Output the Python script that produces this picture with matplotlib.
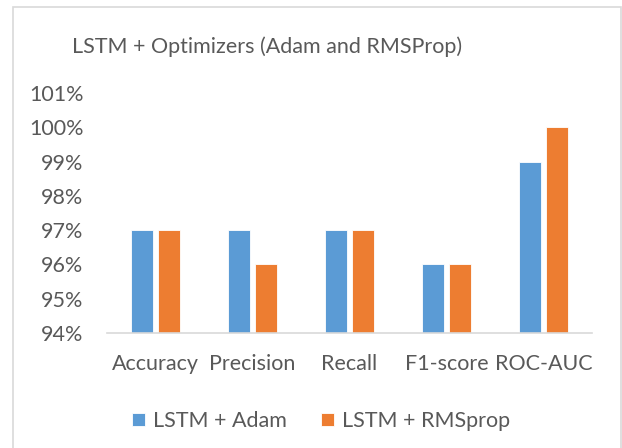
import matplotlib
matplotlib.use("Agg")
import matplotlib.pyplot as plt
from matplotlib.patches import Rectangle
import numpy as np

categories = ["Accuracy", "Precision", "Recall", "F1-score", "ROC-AUC"]
adam = [0.97, 0.97, 0.97, 0.96, 0.99]
rmsprop = [0.97, 0.96, 0.97, 0.96, 1.00]
series_names = ["LSTM + Adam", "LSTM + RMSprop"]
yticks = [0.94, 0.95, 0.96, 0.97, 0.98, 0.99, 1.00, 1.01]
title = "LSTM + Optimizers (Adam and RMSProp)"

plt.rcParams['font.family'] = ['Lato', 'DejaVu Sans']
TXT = '#595959'
BLUE = '#5B9BD5'
ORANGE = '#ED7D31'

fig = plt.figure(figsize=(6.22, 4.48), dpi=100)
fig.patch.set_facecolor('white')
fig.add_artist(Rectangle((13/622, -0.01), (621-13)/622, 1 - 7/448 + 0.01,
                         transform=fig.transFigure, fill=False,
                         edgecolor='#D9D9D9', linewidth=1.2))

ax = fig.add_axes([107/622, 1-333/448, (592-107)/622, (333-93)/448])
x = np.arange(len(categories))
w = 0.227
off = 0.144
ax.bar(x - off, adam, w, color=BLUE, edgecolor='white', linewidth=0.6, label=series_names[0])
ax.bar(x + off, rmsprop, w, color=ORANGE, edgecolor='white', linewidth=0.6, label=series_names[1])

ax.set_ylim(0.94, 1.01)
ax.set_xlim(-0.5, len(categories) - 0.5)
ax.set_yticks(yticks)
ax.set_yticklabels([f"{int(round(v*100))}%" for v in yticks])
ax.set_xticks(x)
ax.set_xticklabels(categories)
ax.tick_params(axis='both', length=0, colors=TXT, labelsize=15.5)
ax.tick_params(axis='y', pad=17)
ax.tick_params(axis='x', pad=15)
for s in ['top', 'right', 'left']:
    ax.spines[s].set_visible(False)
ax.spines['bottom'].set_color('#D9D9D9')
ax.spines['bottom'].set_linewidth(1.2)

fig.text(267/622, 1-47/448, title, ha='center', va='center', color=TXT, fontsize=15.5)

fig.legend(loc='center', bbox_to_anchor=(321/622, 1-421/448), ncol=2, frameon=False,
           fontsize=15.5, labelcolor=TXT, handlelength=0.6, handleheight=0.6,
           handletextpad=0.35, columnspacing=1.6)

fig.savefig("out.png", dpi=100, facecolor='white')
